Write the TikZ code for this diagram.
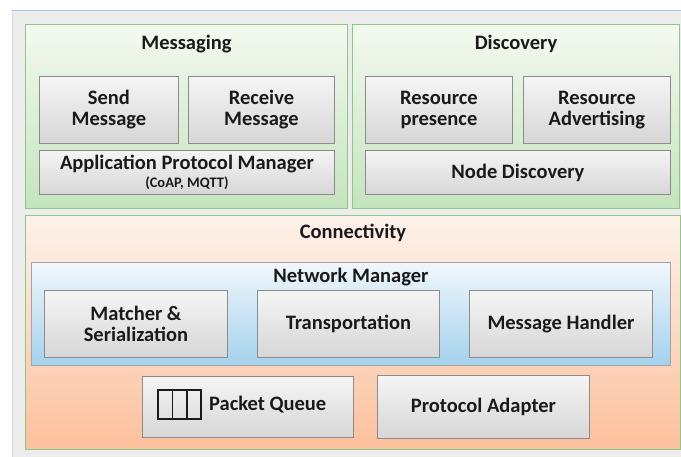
\documentclass[tikz,border=0pt]{standalone}
\usepackage{fontspec}
\setmainfont{Carlito}
\usetikzlibrary{positioning}
\usetikzlibrary{calc}
\definecolor{panelgray}{RGB}{236,236,236}
\definecolor{panelblue}{RGB}{160,192,226}
\definecolor{panelside}{RGB}{210,220,230}
\definecolor{greenline}{RGB}{140,201,132}
\definecolor{greentop}{RGB}{244,249,240}
\definecolor{greenbottom}{RGB}{196,228,189}
\definecolor{graytop}{RGB}{245,245,245}
\definecolor{graybottom}{RGB}{214,214,214}
\definecolor{grayline}{RGB}{140,140,140}
\definecolor{orangetop}{RGB}{253,242,235}
\definecolor{orangebottom}{RGB}{252,192,156}
\definecolor{bluetop}{RGB}{241,247,252}
\definecolor{bluebottom}{RGB}{164,209,236}
\definecolor{blueline}{RGB}{160,165,170}
\definecolor{ink}{RGB}{26,26,26}
\newcommand{\labelfont}{\bfseries\fontsize{20.5}{21}\selectfont}
\tikzset{
    common/.style={anchor=north west, inner sep=0pt, align=center, text=ink, font=\labelfont},
    layer/.style={common, draw=greenline, line width=1pt, top color=greentop, bottom color=greenbottom},
    connect/.style={common, draw=greenline, line width=1pt, top color=orangetop, bottom color=orangebottom},
    manager/.style={common, draw=blueline, line width=0.9pt, top color=bluetop, bottom color=bluebottom},
    module/.style={common, draw=grayline, line width=0.9pt, top color=graytop, bottom color=graybottom},
    title/.style={anchor=base, inner sep=0pt, text=ink, font=\labelfont},
    queue/.style={draw=ink, line width=2pt, minimum width=43pt, minimum height=29pt, inner sep=0pt,
        path picture={
            \draw[ink, line width=1.6pt]
                ($(path picture bounding box.south west)!0.34!(path picture bounding box.south east)$) --
                ($(path picture bounding box.north west)!0.34!(path picture bounding box.north east)$)
                ($(path picture bounding box.south west)!0.67!(path picture bounding box.south east)$) --
                ($(path picture bounding box.north west)!0.67!(path picture bounding box.north east)$);
        }
    },
}
\begin{document}
\begin{tikzpicture}[x=1pt, y=-1pt]
    \useasboundingbox (0,0) rectangle (681,457);
    % background panel
    \fill[panelgray] (12,11) rectangle (681,457);
    \draw[panelside, line width=1pt] (12,11) -- (12,457);
    \draw[panelblue, line width=1pt] (12,11) -- (681,11);

    % messaging
    \node[layer, minimum width=322pt, minimum height=184pt] (msg) at (25,24) {};
    \node[title] at (msg.north |- 0,50) {Messaging};
    \node[module, minimum width=139pt, minimum height=67pt] (send) at (39,76) {Send\\Message};
    \node[module, minimum width=146pt, minimum height=67pt] (recv) at (188,76) {Receive\\Message};
    \node[module, minimum width=295pt, minimum height=44pt] (apm) at (39,150)
        {Application Protocol Manager\\[-3pt]{\fontsize{14.5}{15}\selectfont (CoAP, MQTT)}};

    % discovery
    \node[layer, minimum width=327pt, minimum height=184pt] (disc) at (352,24) {};
    \node[title] at (disc.north |- 0,50) {Discovery};
    \node[module, minimum width=147pt, minimum height=67pt] (pres) at (365,76) {Resource\\presence};
    \node[module, minimum width=147pt, minimum height=67pt] (adv) at (523,76) {Resource\\Advertising};
    \node[module, minimum width=305pt, minimum height=44pt] (nodedisc) at (365,150) {Node Discovery};

    % connectivity
    \node[connect, minimum width=655pt, minimum height=234pt] (conn) at (25,215) {};
    \node[title] at (conn.north |- 0,239) {Connectivity};
    \node[manager, minimum width=639pt, minimum height=103pt] (netmgr) at (31,262) {};
    \node[title] at (netmgr.north |- 0,283) {Network Manager};
    \node[module, minimum width=183pt, minimum height=67pt] (match) at (44,290) {Matcher \&\\Serialization};
    \node[module, minimum width=182pt, minimum height=67pt] (trans) at (257,290) {Transportation};
    \node[module, minimum width=183pt, minimum height=67pt] (handler) at (469,290) {Message Handler};
    \node[module, minimum width=211pt, minimum height=61pt] (pq) at (142,376) {};
    \node[queue, anchor=west] (qicon) at ($(pq.west)+(15,-2)$) {};
    \node[common, anchor=west, right=7pt of qicon] (pqtext) {Packet Queue};
    \node[module, minimum width=212pt, minimum height=63pt] (adapter) at (377,375) {Protocol Adapter};
\end{tikzpicture}
\end{document}
